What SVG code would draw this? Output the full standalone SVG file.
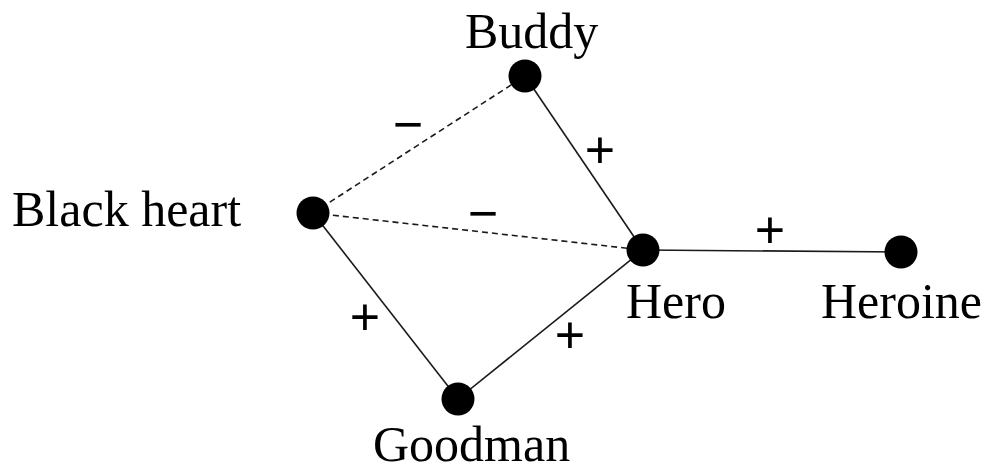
<svg xmlns="http://www.w3.org/2000/svg" width="982" height="464" viewBox="0 0 982 464">
<style>
.lbl{font-family:"Liberation Serif","Times New Roman",serif;font-size:50px;fill:#000}
.sgn{font-family:"Liberation Sans",Arial,sans-serif;font-size:52px;fill:#000;text-anchor:middle}
.e{stroke:#1a1a1a;stroke-width:1.6;fill:none}
.d{stroke-dasharray:6 4}
.n{fill:#000}
</style>
<rect width="982" height="464" fill="#fff"/>
<g id="edges">
<line class="e d" x1="313" y1="213" x2="525" y2="76"/>
<line class="e d" x1="313" y1="213" x2="643" y2="250"/>
<line class="e" x1="525" y1="76" x2="643" y2="250"/>
<line class="e" x1="643" y1="250" x2="901" y2="252"/>
<line class="e" x1="313" y1="213" x2="458" y2="399"/>
<line class="e" x1="458" y1="399" x2="643" y2="250"/>
<text class="sgn" x="408" y="142">−</text>
<text class="sgn" x="600" y="168">+</text>
<text class="sgn" x="483" y="231">−</text>
<text class="sgn" x="770" y="248">+</text>
<text class="sgn" x="365" y="335">+</text>
<text class="sgn" x="570" y="353">+</text>
</g>
<g id="buddy"><circle class="n" cx="525" cy="76" r="16.5"/><text class="lbl" x="465" y="48">Buddy</text></g>
<g id="blackheart"><circle class="n" cx="313" cy="213" r="16.5"/><text class="lbl" x="12" y="226">Black heart</text></g>
<g id="hero"><circle class="n" cx="643" cy="250" r="16.5"/><text class="lbl" x="626" y="318">Hero</text></g>
<g id="heroine"><circle class="n" cx="901" cy="252" r="16.5"/><text class="lbl" x="821" y="318">Heroine</text></g>
<g id="goodman"><circle class="n" cx="458" cy="399" r="16.5"/><text class="lbl" x="373" y="461">Goodman</text></g>
</svg>
